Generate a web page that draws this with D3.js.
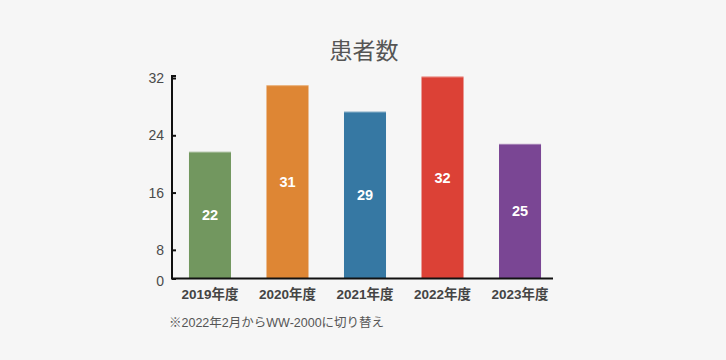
<!DOCTYPE html>
<html>
<head>
<meta charset="utf-8">
<script src="https://cdn.jsdelivr.net/npm/d3@7"></script>
<style>
  html, body { margin: 0; padding: 0; background: #f6f6f6; }
  svg { display: block; }
  text { font-family: "Liberation Sans", Arial, "Noto Sans CJK JP", sans-serif; }
</style>
</head>
<body>
<svg id="chart" width="726" height="360"></svg>
<script>
// ---- data ----
const categories = ["2019年度", "2020年度", "2021年度", "2022年度", "2023年度"];
const valueLabels = [22, 31, 29, 32, 25];           // numbers printed in the bars
const barValues = [21.7, 31.0, 27.3, 32.2, 22.8];    // bar heights as read against the axis
const barColors = ["#72975f", "#de8634", "#3678a3", "#dc4136", "#7a4694"];
const yTicks = [4, 8, 16, 24, 32];
const yTickLabels = ["0", "8", "16", "24", "32"];
const title = "患者数";
const note = "※2022年2月からWW-2000に切り替え";

const svg = d3.select("#chart");
const W = 726, H = 360;
svg.append("rect").attr("width", W).attr("height", H).attr("fill", "#f6f6f6");

const axisLeftX = 172, axisRightX = 553;
const x = d3.scaleBand()
  .domain(categories)
  .range([173, 557])
  .paddingInner(0.458)
  .paddingOuter(0.206);

const y = d3.scaleLinear()
  .domain([4, 32])
  .range([278.5, 78]);

// title
svg.append("text")
  .attr("x", 364).attr("y", 59)
  .attr("text-anchor", "middle")
  .attr("font-size", 23)
  .attr("fill", "#555")
  .style("font-family", "'Noto Sans CJK JP', sans-serif")
  .text(title);

// bars
const data = categories.map((c, i) => ({ c, v: barValues[i], lab: valueLabels[i], col: barColors[i] }));
const g = svg.append("g");
g.selectAll("rect.bar").data(data).enter().append("rect")
  .attr("class", "bar")
  .attr("x", d => x(d.c))
  .attr("width", x.bandwidth())
  .attr("y", d => y(d.v))
  .attr("height", d => y(4) - y(d.v))
  .attr("fill", d => d.col);
// light top edge
g.selectAll("line.top").data(data).enter().append("line")
  .attr("x1", d => x(d.c)).attr("x2", d => x(d.c) + x.bandwidth())
  .attr("y1", d => y(d.v) + 0.5).attr("y2", d => y(d.v) + 0.5)
  .attr("stroke", "#fff").attr("stroke-opacity", 0.35);

g.selectAll("text.val").data(data).enter().append("text")
  .attr("class", "val")
  .attr("x", d => x(d.c) + x.bandwidth() / 2)
  .attr("y", d => (y(d.v) + y(4)) / 2)
  .attr("dy", "0.36em")
  .attr("text-anchor", "middle")
  .attr("font-size", 14.5)
  .attr("font-weight", "bold")
  .attr("fill", "#fff")
  .text(d => d.lab);

// y axis
const yAxis = d3.axisLeft(y)
  .tickValues(yTicks)
  .tickSize(-4)
  .tickPadding(8)
  .tickFormat((d, i) => yTickLabels[i]);
const ya = svg.append("g")
  .attr("transform", `translate(${axisLeftX},0)`)
  .call(yAxis);
ya.select(".domain").attr("stroke", "#111").attr("stroke-width", 2).attr("fill", "none")
  .attr("d", `M4,${y(32) - 2}H0V${y(4)}`);
ya.selectAll(".tick line").attr("stroke", "#111").attr("stroke-width", 2);
ya.selectAll(".tick text").attr("font-size", 14).attr("fill", "#4a4a4a")
  .attr("dy", (d, i) => i === 0 ? "0.5em" : "0.32em");

// x axis
const xAxis = d3.axisBottom(x).tickSize(0).tickPadding(11);
const xa = svg.append("g")
  .attr("transform", `translate(0,${y(4)})`)
  .call(xAxis);
xa.select(".domain").attr("stroke", "#111").attr("stroke-width", 2)
  .attr("d", `M${axisLeftX - 1},0H${axisRightX}`);
xa.selectAll(".tick text").attr("font-size", 13.5).attr("fill", "#444")
  .attr("font-weight", "bold");

// note
svg.append("text")
  .attr("x", 169).attr("y", 327)
  .attr("font-size", 12.5)
  .attr("fill", "#555")
  .text(note);
</script>
</body>
</html>
